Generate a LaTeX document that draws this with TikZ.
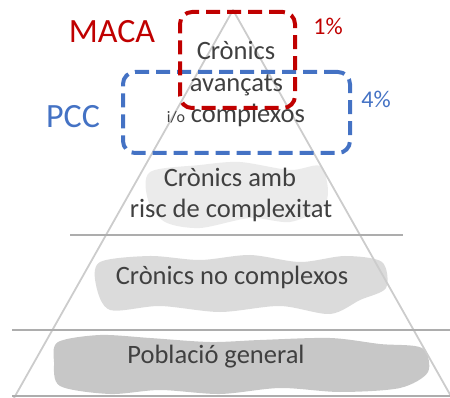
\documentclass[tikz,border=0pt]{standalone}
\usepackage{fontspec}
\setmainfont{Carlito}
\usetikzlibrary{positioning}

\definecolor{macared}{HTML}{C00000}
\definecolor{pccblue}{HTML}{4472C4}
\definecolor{textgray}{HTML}{404040}

\tikzset{
	level text/.style={text=textgray, font=\fontsize{26.5}{30}\selectfont, inner sep=0pt, anchor=base},
	big label/.style={font=\fontsize{34}{40}\selectfont, inner sep=0pt, anchor=base},
	pct label/.style={font=\fontsize{24}{28}\selectfont, inner sep=0pt, anchor=base},
	group box/.style={draw, line width=4pt, rounded corners=12pt, dash pattern=on 14pt off 7pt, inner sep=0pt},
	pyramid line/.style={draw=black!20, line width=1.8pt, line join=round},
	level line/.style={draw=black!32, line width=1.8pt},
}

\begin{document}
\begin{tikzpicture}[x=1pt, y=-1pt]

\useasboundingbox (0, 0) rectangle (450, 398);

% Smudges
\fill[black!8] plot[smooth cycle] coordinates {(150,172) (200,165) (240,162) (290,170) (320,166) (328,190) (322,208) (290,222) (250,218) (200,228) (165,222) (148,200)};
\fill[black!14] plot[smooth cycle] coordinates {(100,262) (150,256) (200,260) (250,255) (300,262) (345,256) (382,262) (386,288) (360,300) (330,314) (280,306) (220,312) (160,306) (110,310) (96,285)};
\fill[black!22] plot[smooth cycle] coordinates {(58,342) (100,335) (150,338) (210,342) (260,340) (330,338) (380,344) (422,348) (428,372) (400,388) (340,392) (280,388) (220,394) (160,390) (110,394) (60,386) (54,362)};

% Pyramid
\draw[pyramid line] (14, 398) -- (233, 10) -- (452, 398);
\draw[level line] (70, 235) -- (403, 235);
\draw[level line] (12, 330) -- (450, 330);
\draw[level line] (12, 396) -- (450, 396);

% Level texts
\node[level text] (advanced_1) at (236, 60) {Crònics};
\node[level text] (advanced_2) at (236.5, 92) {avançats};
\node[level text] (advanced_3) at (236, 123) {{\fontsize{16}{18}\selectfont i/o} complexos};
\node[level text] (risk_1) at (230, 187) {Crònics amb};
\node[level text] (risk_2) at (231, 218) {risc de complexitat};
\node[level text] (not_complex) at (232, 285) {Crònics no complexos};
\node[level text] (general) at (216, 363) {Població general};

% PCC box
\node[group box, draw=pccblue,
	minimum width=227pt,
	minimum height=81pt
] (pcc_box) at (236.5, 112.5) {};

% MACA box
\node[group box, draw=macared,
	minimum width=115pt,
	minimum height=96pt
] (maca_box) at (237.5, 60) {};

% Labels
\node[big label, text=macared] (maca_label) at (112, 43) {MACA};
\node[pct label, text=macared] (maca_pct) at (328, 35) {1\%};
\node[big label, text=pccblue] (pcc_label) at (73, 128) {PCC};
\node[pct label, text=pccblue] (pcc_pct) at (376, 108) {4\%};

\end{tikzpicture}
\end{document}
